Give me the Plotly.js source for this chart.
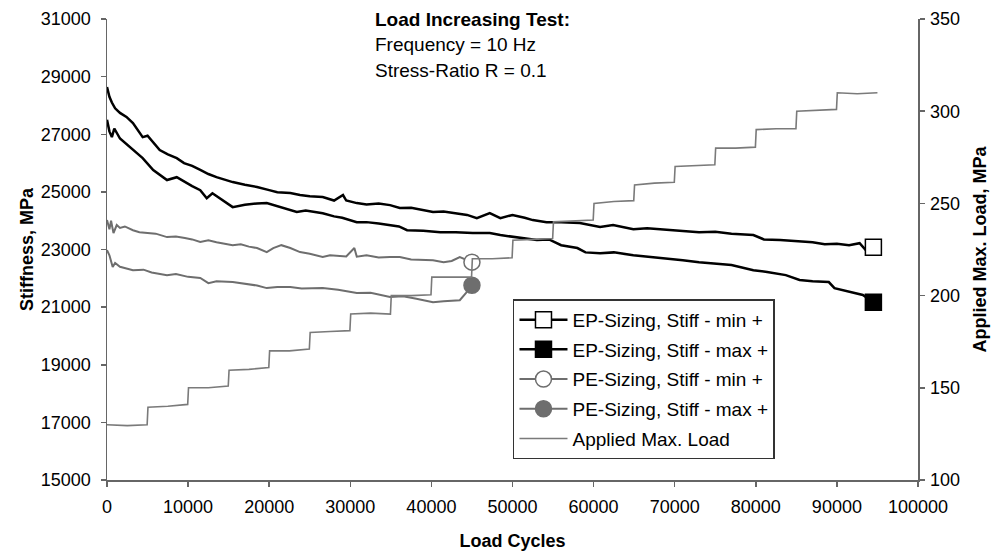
<!DOCTYPE html>
<html>
<head>
<meta charset="utf-8">
<script src="https://cdn.plot.ly/plotly-3.0.1.min.js"></script>
<style>html,body{margin:0;padding:0;background:#fff;}#chart{width:992px;height:552px;}</style>
</head>
<body>
<div id="chart"></div>
<script>
// EP-Sizing, Stiff - min + (upper black)
const epMinX = [0,300,600,1000,1600,2400,3200,4400,5000,6500,7500,8600,9500,10500,11500,12500,13500,15500,17000,18500,20000,21000,22600,23800,25000,26600,28000,29100,29500,30800,32000,33500,34900,36100,37500,39000,40200,41500,43200,44400,45600,47200,48500,50000,51500,52500,54200,56000,58300,60800,62400,64900,66600,68500,70700,73000,75000,77000,79700,81000,83000,85000,87000,88500,90000,91500,92800,93500,94500];
const epMinY = [28640,28300,28100,27900,27740,27600,27390,26900,26950,26450,26300,26170,26000,25900,25760,25620,25510,25340,25250,25170,25060,24990,24960,24890,24850,24820,24700,24890,24700,24610,24560,24600,24540,24440,24450,24370,24300,24320,24260,24200,24090,24260,24090,24200,24100,24020,23950,23950,23920,23780,23850,23700,23740,23700,23670,23600,23620,23550,23500,23350,23330,23280,23250,23180,23200,23150,23220,23000,23080];
// EP-Sizing, Stiff - max + (lower black)
const epMaxX = [0,300,600,900,1600,2400,3200,4400,5700,6500,7400,8600,9500,10500,11500,12300,13000,14000,15500,17000,18500,19700,21000,22600,23400,24500,26600,28000,29000,30800,32000,33500,34900,36000,37000,39000,41100,43000,45100,47200,48500,50000,52000,53000,54500,56000,58000,59000,60800,62500,64900,67000,69000,71000,73000,75000,77000,79700,81400,83700,85400,87000,89000,89700,91500,93200,94500];
const epMaxY = [27500,27100,26900,27200,26850,26650,26450,26170,25760,25600,25410,25510,25350,25200,25060,24780,24950,24750,24470,24550,24600,24610,24500,24370,24300,24350,24260,24150,24100,23950,23950,23900,23850,23800,23670,23650,23600,23600,23570,23570,23500,23450,23380,23330,23350,23150,23050,22900,22870,22900,22800,22750,22700,22630,22560,22500,22460,22280,22220,22110,21940,21900,21870,21660,21550,21420,21170];
// PE-Sizing, Stiff - min + (upper gray)
const peMinX = [0,300,500,800,1200,1600,2200,3200,4000,5300,6000,7400,8500,9600,10500,11500,12500,13500,14500,15500,16500,17500,18500,19700,20500,21500,22600,23800,25000,26600,27500,28500,29500,30500,30800,32000,33500,34900,36100,37500,39000,40200,41500,42500,43500,45000];
const peMinY = [24020,23700,24000,23570,23850,23750,23800,23670,23600,23570,23550,23430,23450,23400,23350,23260,23320,23250,23200,23150,23180,23100,23050,22910,23050,23150,23050,22910,22850,22740,22800,22770,22760,23050,22750,22800,22720,22740,22740,22650,22630,22630,22560,22600,22740,22560];
// PE-Sizing, Stiff - max + (lower gray)
const peMaxX = [0,300,700,1000,1600,2400,3200,4500,5500,7400,8500,10000,11500,12500,13500,15500,17000,18500,19700,21000,22600,24000,26600,28500,30800,32500,34900,36500,38000,40200,41500,43500,44300,45000];
const peMaxY = [22980,22800,22390,22530,22400,22350,22280,22300,22200,22110,22150,22050,22010,21830,21900,21870,21800,21750,21660,21700,21700,21650,21660,21600,21490,21500,21350,21380,21300,21170,21200,21240,21500,21760];
// Applied Max. Load (MPa, right axis)
const loadX = [0,2500,4950, 5050,7500,9950, 10050,12500,14950, 15050,17500,19950, 20050,22500,24950, 25050,27500,29950, 30050,32500,34950, 35050,37500,39950, 40050,42500,44950, 45050,47500,49950, 50050,52500,54950, 55050,57500,59950, 60050,62500,64950, 65050,67500,69950, 70050,72500,74950, 75050,77500,79950, 80050,82500,84950, 85050,87500,89950, 90050,92500,95000];
const loadY = [130,129.5,130, 139.5,140,141, 150,150,151, 159.5,160,161, 170,170,171, 180,180.5,181, 190,190.5,190, 200,200,200.5, 210,210,210, 220,220,220.5, 230,230.5,231, 240,240.5,241, 250,251,251.5, 260,261,261.5, 270,270.5,271, 280,280,280.5, 290,290.5,290.5, 300,300.5,301, 310,309.5,310];

const names = ["EP-Sizing, Stiff - min +","EP-Sizing, Stiff - max +","PE-Sizing, Stiff - min +","PE-Sizing, Stiff - max +","Applied Max. Load"];

const black = "#000000", gray = "#6e6e6e", lgray = "#7a7a7a";

function series(x, y, name, color, width, symbol, fill, group) {
  const n = x.length - 1;
  return [
    {x: x, y: y, type: "scatter", mode: "lines", line: {color: color, width: width}, showlegend: false, legendgroup: group, hoverinfo: "skip"},
    {x: [x[n]], y: [y[n]], type: "scatter", mode: "lines+markers", name: name, legendgroup: group,
     line: {color: color, width: width},
     marker: {symbol: symbol, size: 16, color: fill, line: {color: color, width: 1.5}}}
  ];
}

const traces = [
  {x: loadX, y: loadY, yaxis: "y2", type: "scatter", mode: "lines", name: names[4], legendgroup: "g5", line: {color: lgray, width: 1.6}, showlegend: false},
  ...series(epMinX, epMinY, names[0], black, 2.5, "square", "#ffffff", "g1"),
  ...series(epMaxX, epMaxY, names[1], black, 2.5, "square", "#000000", "g2"),
  ...series(peMinX, peMinY, names[2], gray, 2, "circle", "#ffffff", "g3"),
  ...series(peMaxX, peMaxY, names[3], gray, 2, "circle", "#6e6e6e", "g4"),
  {x: [loadX[0]], y: [loadY[0]], yaxis: "y2", type: "scatter", mode: "lines", name: names[4], legendgroup: "g5", line: {color: lgray, width: 1.6}, hoverinfo: "skip"}
];

const ff = "Arial, Liberation Sans, sans-serif";
const tickFnt = {family: ff, size: 18, color: "#000"};
const txtFnt = {family: ff, size: 19, color: "#000"};
const titleFnt = {family: ff, size: 18, color: "#000"};
const axisCommon = {showgrid: false, zeroline: false, showline: true, linecolor: "#666", linewidth: 1.5, ticks: "outside", ticklen: 5, tickcolor: "#666", tickwidth: 1.5, tickfont: tickFnt, tickformat: "d", exponentformat: "none"};

const layout = {
  width: 992, height: 552,
  margin: {l: 107, r: 74, t: 19, b: 72},
  paper_bgcolor: "#fff", plot_bgcolor: "#fff",
  font: txtFnt,
  xaxis: Object.assign({}, axisCommon, {range: [0, 100000], dtick: 10000, tick0: 0, ticklabelstandoff: 5, title: {text: "<b>Load Cycles</b>", font: titleFnt, standoff: 18}}),
  yaxis: Object.assign({}, axisCommon, {range: [15000, 31000], dtick: 2000, tick0: 15000, ticklabelstandoff: 6, title: {text: "<b>Stiffness, MPa</b>", font: titleFnt, standoff: 2}}),
  yaxis2: Object.assign({}, axisCommon, {overlaying: "y", side: "right", range: [100, 350], dtick: 50, tick0: 100, ticklabelstandoff: 2, title: {text: "<b>Applied Max. Load, MPa</b>", font: titleFnt, standoff: 14}}),
  legend: {x: 0.5006, y: 0.392, xanchor: "left", yanchor: "top", bgcolor: "#fff", bordercolor: "#333", borderwidth: 1.5, font: txtFnt, itemwidth: 48, tracegroupgap: 2, traceorder: "grouped"},
  annotations: [
    {xref: "paper", yref: "paper", x: 0.328, y: 0.998, xanchor: "left", yanchor: "middle", text: "<b>Load Increasing Test:</b>", showarrow: false, font: txtFnt},
    {xref: "paper", yref: "paper", x: 0.328, y: 0.944, xanchor: "left", yanchor: "middle", text: "Frequency = 10 Hz", showarrow: false, font: txtFnt},
    {xref: "paper", yref: "paper", x: 0.328, y: 0.889, xanchor: "left", yanchor: "middle", text: "Stress-Ratio R = 0.1", showarrow: false, font: txtFnt}
  ],
  showlegend: true
};

Plotly.newPlot("chart", traces, layout, {displayModeBar: false, staticPlot: true});
</script>
</body>
</html>
